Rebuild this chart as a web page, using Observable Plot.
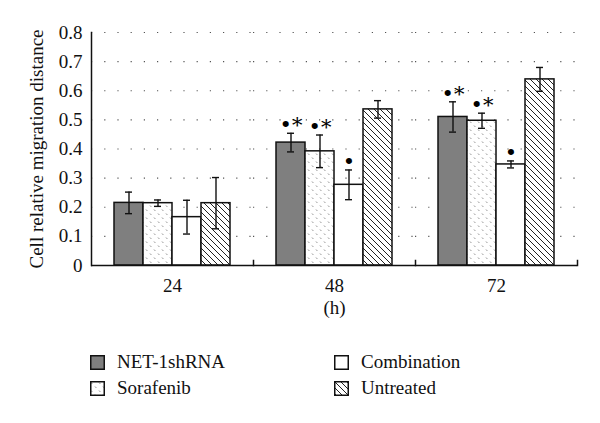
<!DOCTYPE html>
<html>
<head>
<meta charset="utf-8">
<script src="https://cdn.jsdelivr.net/npm/d3@7"></script>
<script src="https://cdn.jsdelivr.net/npm/@observablehq/plot@0.6"></script>
<style>
  body { margin: 0; background: #fff; font-family: "Liberation Serif", "DejaVu Serif", serif; }
  #legend { position: relative; width: 600px; height: 103px; font-family: "Liberation Serif", serif; font-size: 19px; color: #111; }
  .item { position: absolute; display: flex; align-items: center; height: 22px; white-space: nowrap; }
  .item svg { margin-right: 12px; }
</style>
</head>
<body>
<svg width="0" height="0" style="position:absolute">
  <defs>
    <pattern id="sorafPat" patternUnits="userSpaceOnUse" width="8" height="8">
      <rect width="8" height="8" fill="#fff"/>
      <path d="M1,1.5 L2.4,3 M5,5.5 L6.4,7" stroke="#8a8a8a" stroke-width="0.9"/>
    </pattern>
    <pattern id="hatchPat" patternUnits="userSpaceOnUse" width="6" height="6">
      <rect width="6" height="6" fill="#fff"/>
      <path d="M-1,-1 L7,7 M-1,5 L1,7 M5,-1 L7,1" stroke="#222" stroke-width="1"/>
    </pattern>
  </defs>
</svg>
<div id="chart"></div>
<div id="legend"></div>
<script>
const times = ["24", "48", "72"];
const series = ["NET-1shRNA", "Sorafenib", "Combination", "Untreated"];
const yTicks = [0, 0.1, 0.2, 0.3, 0.4, 0.5, 0.6, 0.7, 0.8];

const netMeans = [0.215, 0.422, 0.510];
const netErr   = [0.037, 0.032, 0.052];
const sorMeans = [0.214, 0.392, 0.497];
const sorErr   = [0.011, 0.056, 0.026];
const comMeans = [0.166, 0.277, 0.347];
const comErr   = [0.058, 0.051, 0.012];
const untMeans = [0.214, 0.536, 0.639];
const untErr   = [0.088, 0.030, 0.041];
const netMarks = ["", "•*", "•*"];
const sorMarks = ["", "•*", "•*"];
const comMarks = ["", "•", "•"];
const untMarks = ["", "", ""];

const fills = ["#7f7f7f", "url(#sorafPat)", "#ffffff", "url(#hatchPat)"];

const seriesData = [
  [netMeans, netErr, netMarks],
  [sorMeans, sorErr, sorMarks],
  [comMeans, comErr, comMarks],
  [untMeans, untErr, untMarks]
];
const rows = [];
times.forEach((t, ti) => {
  series.forEach((s, si) => {
    const [m, e, k] = seriesData[si];
    rows.push({time: t, series: s, value: m[ti], err: e[ti], mark: k[ti]});
  });
});

const chart = Plot.plot({
  width: 600,
  height: 330,
  marginLeft: 90,
  marginRight: 22,
  marginTop: 32,
  marginBottom: 65,
  style: {fontFamily: "Liberation Serif, serif", fontSize: "19px", background: "white", color: "#111"},
  fx: {domain: times, padding: 0},
  x: {domain: series, paddingInner: 0, paddingOuter: 0.71},
  y: {domain: [0, 0.8]},
  color: {domain: series, range: fills},
  marks: [
    Plot.gridY(yTicks.slice(1), {stroke: "#555", strokeOpacity: 1, strokeWidth: 1.2, strokeDasharray: "1.2,12"}),
    Plot.barY(rows, {fx: "time", x: "series", y: "value", fill: "series", stroke: "#111", strokeWidth: 1.5}),
    Plot.ruleX(rows, {fx: "time", x: "series", y1: d => d.value - d.err, y2: d => d.value + d.err, stroke: "#111", strokeWidth: 1.4}),
    Plot.tickY(rows, {fx: "time", x: "series", y: d => d.value - d.err, stroke: "#111", strokeWidth: 1.4, insetLeft: 11, insetRight: 11}),
    Plot.tickY(rows, {fx: "time", x: "series", y: d => d.value + d.err, stroke: "#111", strokeWidth: 1.4, insetLeft: 11, insetRight: 11}),
    Plot.text(rows.filter(d => d.mark), {fx: "time", x: "series", y: d => d.value + d.err, text: "mark", lineAnchor: "bottom", dy: -1, fontSize: 21, fill: "#000", fontFamily: "DejaVu Serif, serif"}),
    Plot.ruleY([0], {stroke: "#111", strokeWidth: 1.5}),
    Plot.frame({anchor: "left", facetAnchor: "left", stroke: "#111", strokeWidth: 1.5}),
    Plot.frame({anchor: "right", insetTop: 228, stroke: "#111", strokeWidth: 1.5}),
    Plot.axisY(yTicks, {tickSize: 0, tickPadding: 9, tickFormat: d => d === 0 ? "0" : d.toFixed(1), label: "Cell relative migration distance", labelAnchor: "center", labelOffset: 62, labelArrow: "none"}),
    Plot.axisFx({anchor: "bottom", tickSize: 0, tickPadding: 13, label: "(h)", labelAnchor: "center", labelOffset: 48, labelArrow: "none"}),
    Plot.axisX({ticks: [], label: null})
  ]
});
document.getElementById("chart").appendChild(chart);

// legend
const legend = d3.select("#legend");
const legendPos = [
  {left: 90, top: 32}, {left: 90, top: 58}, {left: 334, top: 32}, {left: 334, top: 58}
];
series.forEach((s, i) => {
  const item = legend.append("div").attr("class", "item")
    .style("left", legendPos[i].left + "px").style("top", (legendPos[i].top - 11) + "px");
  const sw = item.append("svg").attr("width", 15).attr("height", 15);
  sw.append("rect").attr("x", 0.75).attr("y", 0.75).attr("width", 13.5).attr("height", 13.5)
    .attr("fill", fills[i]).attr("stroke", "#111").attr("stroke-width", 1.5);
  item.append("span").text(s);
});
</script>
</body>
</html>
